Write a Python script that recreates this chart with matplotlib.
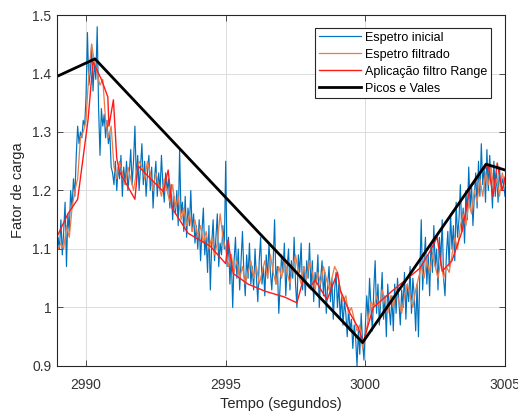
import numpy as np
import matplotlib
matplotlib.use("Agg")
import matplotlib.pyplot as plt

plt.rcParams['font.family'] = ['Liberation Sans', 'DejaVu Sans']

# Espetro inicial: amostras a cada 0.05 s a partir de 2988.95 s
t0_inicial = 2988.95
dt_inicial = 0.05
espetro_inicial = [
    1.08, 1.12, 1.10, 1.15, 1.09, 1.13, 1.18, 1.07, 1.16, 1.13, 1.20, 1.17, 1.22, 1.19, 1.26, 1.31, 1.28, 1.30, 1.29, 1.32,
    1.31, 1.36, 1.47, 1.38, 1.40, 1.45, 1.37, 1.42, 1.39, 1.48, 1.34, 1.26, 1.34, 1.31, 1.33, 1.29, 1.32, 1.28, 1.30, 1.24,
    1.23, 1.21, 1.25, 1.20, 1.24, 1.22, 1.26, 1.19, 1.24, 1.21, 1.25, 1.20, 1.23, 1.27, 1.21, 1.25, 1.31, 1.22, 1.26, 1.20,
    1.24, 1.28, 1.21, 1.25, 1.19, 1.23, 1.26, 1.20, 1.24, 1.17, 1.22, 1.25, 1.19, 1.23, 1.20, 1.26, 1.21, 1.18, 1.23, 1.20,
    1.22, 1.17, 1.21, 1.15, 1.19, 1.16, 1.20, 1.14, 1.27, 1.16, 1.18, 1.13, 1.19, 1.12, 1.17, 1.14, 1.20, 1.13, 1.16, 1.11,
    1.14, 1.10, 1.15, 1.08, 1.13, 1.17, 1.09, 1.12, 1.06, 1.14, 1.03, 1.11, 1.15, 1.08, 1.12, 1.16, 1.07, 1.11, 1.09, 1.14,
    1.10, 1.25, 1.07, 1.12, 1.04, 1.09, 1.00, 1.08, 1.12, 1.05, 1.10, 1.03, 1.08, 1.13, 1.06, 1.02, 1.09, 1.05, 1.11, 1.04,
    1.07, 1.03, 1.10, 1.05, 1.01, 1.08, 1.12, 1.04, 1.07, 1.02, 1.09, 1.05, 1.11, 1.06, 1.03, 1.08, 1.15, 1.04, 1.07, 0.99,
    1.04, 1.09, 1.06, 1.11, 1.02, 1.07, 1.10, 1.03, 1.08, 1.05, 1.12, 1.04, 1.00, 1.09, 1.06, 1.11, 1.03, 1.07, 1.02, 1.08,
    1.05, 1.11, 1.03, 1.08, 1.01, 1.06, 1.04, 1.09, 1.00, 1.05, 1.08, 1.02, 1.06, 0.99, 1.04, 1.07, 1.01, 1.05, 0.98, 1.03,
    1.06, 1.00, 1.04, 0.98, 1.02, 0.97, 1.01, 0.99, 0.95, 1.00, 0.96, 0.98, 0.93, 0.97, 0.95, 0.90, 0.96, 0.92, 0.99, 0.94,
    0.91, 0.97, 1.02, 0.98, 1.05, 1.00, 0.96, 1.03, 1.08, 0.99, 1.04, 0.97, 1.01, 1.06, 0.98, 1.02, 0.95, 1.04, 1.00, 0.97,
    1.02, 0.96, 1.04, 0.99, 1.05, 1.01, 0.97, 1.03, 1.00, 1.06, 0.98, 1.04, 1.01, 1.07, 0.99, 1.05, 1.02, 0.96, 1.04, 0.95,
    1.06, 1.15, 1.03, 1.08, 1.12, 1.04, 1.09, 1.02, 1.11, 1.06, 1.14, 1.07, 1.10, 1.03, 1.12, 1.08, 1.15, 1.05, 1.02, 1.09,
    1.13, 1.07, 1.16, 1.10, 1.14, 1.08, 1.18, 1.12, 1.15, 1.21, 1.13, 1.17, 1.11, 1.20, 1.15, 1.24, 1.17, 1.21, 1.14, 1.19,
    1.23, 1.17, 1.25, 1.19, 1.28, 1.21, 1.24, 1.18, 1.27, 1.20, 1.26, 1.22, 1.17, 1.25, 1.19, 1.23, 1.18, 1.24, 1.20, 1.22,
    1.21, 1.19,
]

# Espetro filtrado: amostras a cada 0.1 s a partir de 2989.0 s
t0_filtrado = 2989.0
dt_filtrado = 0.1
espetro_filtrado = [
    1.10, 1.11, 1.10, 1.14, 1.12, 1.17, 1.20, 1.22, 1.29, 1.30,
    1.32, 1.40, 1.45, 1.42, 1.40, 1.38, 1.39, 1.32, 1.29, 1.31,
    1.24, 1.22, 1.25, 1.23, 1.21, 1.24, 1.22, 1.20, 1.23, 1.25,
    1.24, 1.22, 1.25, 1.23, 1.20, 1.23, 1.21, 1.19, 1.22, 1.20,
    1.18, 1.21, 1.17, 1.19, 1.15, 1.17, 1.14, 1.16, 1.13, 1.15,
    1.12, 1.14, 1.11, 1.13, 1.10, 1.12, 1.09, 1.11, 1.16, 1.12,
    1.10, 1.07, 1.09, 1.06, 1.08, 1.05, 1.07, 1.04, 1.06, 1.08,
    1.05, 1.07, 1.04, 1.06, 1.08, 1.05, 1.09, 1.06, 1.04, 1.07,
    1.05, 1.08, 1.06, 1.04, 1.07, 1.09, 1.06, 1.04, 1.07, 1.05,
    1.08, 1.06, 1.03, 1.06, 1.04, 1.07, 1.05, 1.03, 1.05, 1.07,
    1.06, 1.03, 1.01, 1.02, 0.99, 1.00, 0.98, 0.96, 0.97, 0.93,
    0.95, 0.98, 1.01, 1.00, 1.02, 1.00, 1.03, 1.01, 0.99, 1.02,
    1.00, 1.03, 1.01, 0.99, 1.02, 1.04, 1.02, 1.00, 1.03, 1.05,
    1.07, 1.05, 1.08, 1.06, 1.09, 1.07, 1.05, 1.08, 1.05, 1.07,
    1.06, 1.09, 1.12, 1.10, 1.14, 1.16, 1.14, 1.18, 1.16, 1.20,
    1.18, 1.22, 1.19, 1.23, 1.21, 1.24, 1.20, 1.22, 1.19, 1.23,
    1.21,
]

# Aplicação filtro Range (pontos retidos)
t_range = [2988.95, 2989.35, 2989.70, 2990.07, 2990.25, 2990.55, 2990.78, 2990.82, 2990.98, 2991.10,
           2991.20, 2991.75, 2991.86, 2992.77, 2992.94, 2993.08, 2993.65, 2994.44, 2995.00, 2995.08,
           2995.27, 2995.80, 2996.40, 2997.10, 2997.55, 2997.77, 2998.00, 2998.20, 2998.63, 2999.00,
           2999.10, 2999.45, 2999.75, 2999.92, 3000.28, 3001.00, 3001.95, 3002.30, 3002.57, 3002.75,
           3003.10, 3003.46, 3003.75, 3003.90, 3004.10, 3004.40, 3004.57, 3004.72, 3004.90, 3005.00]
v_range = [1.120, 1.160, 1.185, 1.320, 1.420, 1.390, 1.360, 1.310, 1.355, 1.255,
           1.232, 1.185, 1.242, 1.198, 1.235, 1.170, 1.127, 1.105, 1.075, 1.115,
           1.058, 1.040, 1.028, 1.018, 1.008, 1.047, 1.033, 1.047, 1.013, 1.060,
           1.030, 0.990, 0.965, 0.940, 1.000, 1.030, 1.067, 1.095, 1.120, 1.062,
           1.080, 1.130, 1.206, 1.213, 1.230, 1.243, 1.190, 1.247, 1.200, 1.223]

# Picos e Vales
t_picos = [2988.96, 2990.32, 2999.90, 3004.32, 3005.00]
v_picos = [1.395, 1.425, 0.940, 1.245, 1.235]

t_inicial = t0_inicial + dt_inicial * np.arange(len(espetro_inicial))
t_filtrado = t0_filtrado + dt_filtrado * np.arange(len(espetro_filtrado))

fig = plt.figure(figsize=(5.18, 4.11), dpi=100)
ax = fig.add_axes([0.110, 0.1095, 0.865, 0.854])

ax.plot(t_inicial, espetro_inicial, color='#0072BD', lw=0.85, label='Espetro inicial')
ax.plot(t_filtrado, espetro_filtrado, color='#EE7A45', lw=0.9, label='Espetro filtrado')
ax.plot(t_range, v_range, color='#FF1A1A', lw=1.0, label='Aplicação filtro Range')
ax.plot(t_picos, v_picos, color='black', lw=2.0, label='Picos e Vales')

ax.set_xlim(2988.96, 3005)
ax.set_ylim(0.9, 1.5)
ax.set_xticks([2990, 2995, 3000, 3005])
ax.set_yticks([0.9, 1.0, 1.1, 1.2, 1.3, 1.4, 1.5])
ax.set_yticklabels(['0.9', '1', '1.1', '1.2', '1.3', '1.4', '1.5'])
ax.grid(True, color='#DCDCDC', lw=0.7)
ax.set_axisbelow(True)
ax.tick_params(direction='in', top=True, right=True, length=4, width=0.6,
               labelsize=10, colors='#333333')
ax.tick_params(axis='x', pad=8.5)
ax.tick_params(axis='y', pad=4)
for s in ax.spines.values():
    s.set_color('#262626')
    s.set_linewidth(0.8)

ax.set_xlabel('Tempo (segundos)', fontsize=10.5, color='#262626', labelpad=3.5)
ax.set_ylabel('Fator de carga', fontsize=10.5, color='#262626', labelpad=5)

leg = ax.legend(loc='upper right', bbox_to_anchor=(0.969, 0.963), borderaxespad=0,
                fancybox=False, fontsize=9, handlelength=3.4, handletextpad=0.3,
                labelspacing=0.4, borderpad=0.3, framealpha=1)
leg.get_frame().set_edgecolor('#262626')
leg.get_frame().set_linewidth(0.8)

fig.savefig('out.png', dpi=100)
